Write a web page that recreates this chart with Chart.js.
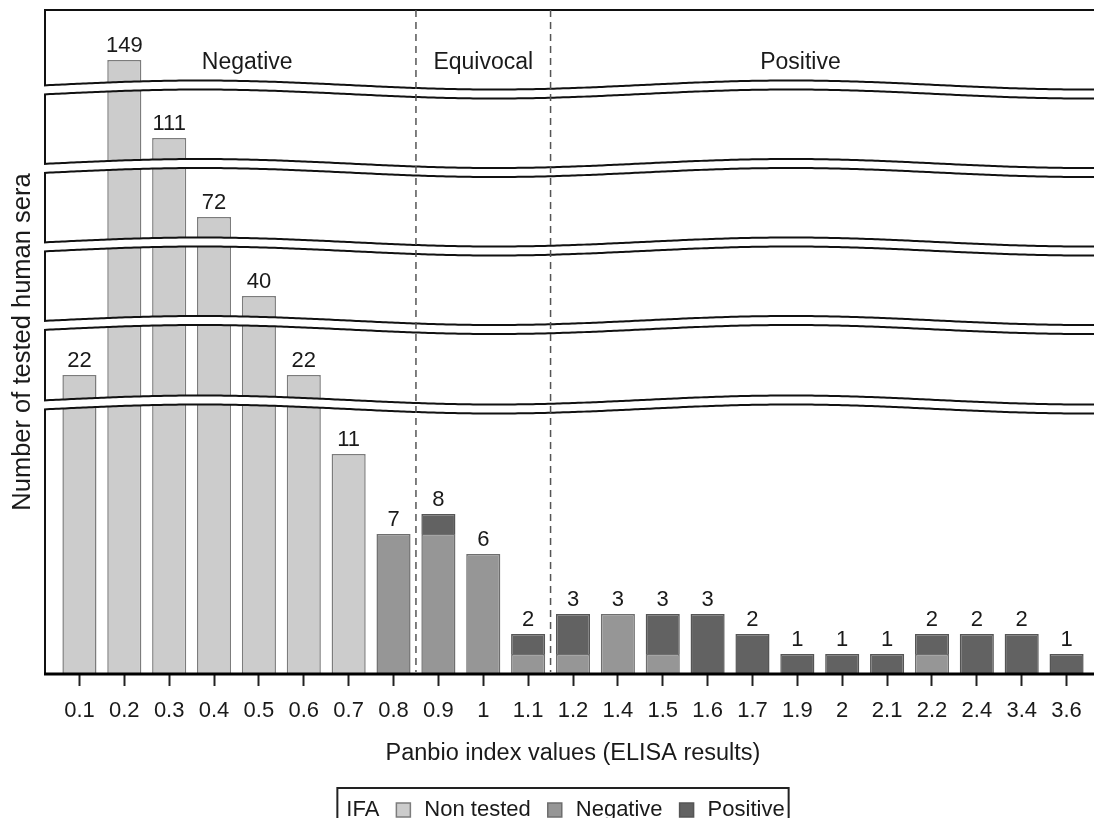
<!DOCTYPE html>
<html>
<head>
<meta charset="utf-8">
<script src="https://cdn.jsdelivr.net/npm/chart.js@4.4.1/dist/chart.umd.min.js"></script>
<style>
    html, body { margin: 0; padding: 0; background: #fff; }
    #wrap { width: 1094px; height: 818px; }
</style>
</head>
<body>
<div id="wrap"><canvas id="chartElisa"></canvas></div>
<script>
// Panbio index values (x categories) and counts per IFA result
const categories = ['0.1', '0.2', '0.3', '0.4', '0.5', '0.6', '0.7', '0.8', '0.9', '1', '1.1', '1.2',
    '1.4', '1.5', '1.6', '1.7', '1.9', '2', '2.1', '2.2', '2.4', '3.4', '3.6'];
const nonTested = [22, 149, 111, 72, 40, 22, 11, 0, 0, 0, 0, 0, 0, 0, 0, 0, 0, 0, 0, 0, 0, 0, 0];
const negativeIfa = [0, 0, 0, 0, 0, 0, 0, 7, 7, 6, 1, 1, 3, 1, 0, 0, 0, 0, 0, 1, 0, 0, 0];
const positiveIfa = [0, 0, 0, 0, 0, 0, 0, 0, 1, 0, 1, 2, 0, 2, 3, 2, 1, 1, 1, 1, 2, 2, 1];
const seriesNames = ['Non tested', 'Negative', 'Positive'];
const regionNames = ['Negative', 'Equivocal', 'Positive'];

const fontFamily = "'Liberation Sans', Arial, Helvetica, sans-serif";
const textColor = '#1a1a1a';

// broken y axis: value -> display units (1 unit = one count in the lowest panel)
const yKnots = [[0, 0], [12, 12], [22, 14.95], [40, 18.9], [72, 22.85], [111, 26.8], [149, 30.7], [165, 33.2]];
// centre of each wavy break, in display units
const yBreaks = [13.475, 17.45, 21.375, 25.3, 29.225];

class BrokenScale extends Chart.LinearScale {
    warp(v) {
        const k = yKnots;
        for (let i = 1; i < k.length; i++) {
            if (v <= k[i][0] || i == k.length - 1) {
                const a = k[i - 1], b = k[i];
                return a[1] + (v - a[0]) * (b[1] - a[1]) / (b[0] - a[0]);
            }
        }
        return v;
    }
    getPixelForUnit(u) {
        const lo = this.warp(this.min), hi = this.warp(this.max);
        return this.getPixelForDecimal((u - lo) / (hi - lo));
    }
    getPixelForValue(value) {
        if (value === null || isNaN(value)) return NaN;
        return this.getPixelForUnit(this.warp(value));
    }
}
BrokenScale.id = 'broken';
Chart.register(BrokenScale);

const frameInset = 12;

const brokenFrame = {
    id: 'brokenFrame',
    afterDatasetsDraw: function (chart) {
        const ctx = chart.ctx;
        const area = chart.chartArea;
        const xs = chart.scales.x, ys = chart.scales.y;
        const left = area.left - frameInset;
        const right = chart.width;
        const wave = function (px) {
            return -4.5 * Math.cos(2 * Math.PI * (px - left - 155) / 590);
        };

        ctx.save();
        ctx.lineCap = 'butt';

        // outer frame: left side and top
        ctx.strokeStyle = '#111';
        ctx.lineWidth = 2;
        ctx.beginPath();
        ctx.moveTo(right, area.top);
        ctx.lineTo(left, area.top);
        ctx.lineTo(left, area.bottom);
        ctx.stroke();

        // wavy axis breaks
        for (const u of yBreaks) {
            const yc = ys.getPixelForUnit(u);
            ctx.beginPath();
            for (let px = left - 5; px <= right; px += 3) ctx.lineTo(px, yc - 4.5 + wave(px));
            for (let px = right; px >= left - 5; px -= 3) ctx.lineTo(px, yc + 4.5 + wave(px));
            ctx.closePath();
            ctx.fillStyle = '#fff';
            ctx.fill();

            ctx.strokeStyle = '#111';
            ctx.lineWidth = 2;
            for (const s of [-1, 1]) {
                ctx.beginPath();
                for (let px = left - 1; px <= right + 3; px += 3) ctx.lineTo(px, yc + s * 4.5 + wave(px));
                ctx.stroke();
            }
        }

        // x axis line
        ctx.strokeStyle = '#000';
        ctx.lineWidth = 3;
        ctx.beginPath();
        ctx.moveTo(left - 1, area.bottom);
        ctx.lineTo(right, area.bottom);
        ctx.stroke();

        // dashed region limits
        ctx.strokeStyle = '#555';
        ctx.lineWidth = 1.5;
        ctx.setLineDash([7, 5]);
        for (const b of [7.5, 10.5]) {
            const px = xs.getPixelForValue(b);
            ctx.beginPath();
            ctx.moveTo(px, area.top);
            ctx.lineTo(px, area.bottom - 2);
            ctx.stroke();
        }
        ctx.setLineDash([]);

        // region names
        ctx.fillStyle = textColor;
        ctx.font = '23px ' + fontFamily;
        ctx.textAlign = 'center';
        ctx.textBaseline = 'alphabetic';
        const regionAt = [3.74, 9, 16.07];
        regionNames.forEach(function (name, i) {
            ctx.fillText(name, xs.getPixelForValue(regionAt[i]), area.top + 59);
        });

        // totals above bars
        ctx.font = '22px ' + fontFamily;
        categories.forEach(function (c, i) {
            const total = nonTested[i] + negativeIfa[i] + positiveIfa[i];
            ctx.fillText(String(total), xs.getPixelForValue(i), ys.getPixelForValue(total) - 8);
        });

        ctx.restore();
    }
};

const legendBox = {
    id: 'legendBox',
    afterDraw: function (chart) {
        const ctx = chart.ctx;
        const area = chart.chartArea;
        const items = chart.data.datasets;
        ctx.save();
        ctx.font = '22px ' + fontFamily;
        const titleW = ctx.measureText('IFA').width;
        let w = 9 + titleW + 4;
        items.forEach(function (d) { w += 17 + 14 + 14 + ctx.measureText(d.label).width; });
        const cx = (area.left - frameInset + area.right) / 2 - 4;
        let x = cx - w / 2;
        const top = chart.height - 30;
        const cy = chart.height - 8;

        ctx.strokeStyle = '#222';
        ctx.lineWidth = 2;
        ctx.strokeRect(x, top, w, 60);

        ctx.fillStyle = textColor;
        ctx.textAlign = 'left';
        ctx.textBaseline = 'middle';
        x += 9;
        ctx.fillText('IFA', x, cy);
        x += titleW;
        items.forEach(function (d) {
            x += 17;
            ctx.fillStyle = d.backgroundColor;
            ctx.fillRect(x, cy - 7, 14, 14);
            ctx.strokeStyle = d.borderColor;
            ctx.lineWidth = 1.5;
            ctx.strokeRect(x, cy - 7, 14, 14);
            x += 14 + 14;
            ctx.fillStyle = textColor;
            ctx.fillText(d.label, x, cy);
            x += ctx.measureText(d.label).width;
        });
        ctx.restore();
    }
};

var arrColor = ['#cccccc', '#969696', '#626262'];
var arrBorder = ['#7c7c7c', '#6e6e6e', '#555555'];
var series = [nonTested, negativeIfa, positiveIfa];

let objDatasets = [];
for (let i = 0; i < series.length; i++) {
    objDatasets.push({
        label: seriesNames[i],
        data: series[i].map(function (v) { return v || null; }),
        backgroundColor: arrColor[i],
        borderColor: arrBorder[i],
        borderWidth: 1.5,
        barPercentage: 0.76,
        categoryPercentage: 1.0
    });
}

Chart.defaults.font.family = fontFamily;
Chart.defaults.color = textColor;

let ctx = document.getElementById('chartElisa').getContext('2d');
let elisaChart = new Chart(ctx, {
    type: 'bar',
    data: {
        labels: categories,
        datasets: objDatasets
    },
    plugins: [brokenFrame, legendBox],
    options: {
        responsive: true,
        maintainAspectRatio: false,
        animation: false,
        layout: {
            padding: { left: 4, right: 5, top: 10, bottom: 45.9 }
        },
        plugins: {
            legend: { display: false },
            tooltip: { enabled: false }
        },
        scales: {
            x: {
                stacked: true,
                offset: true,
                grid: {
                    display: true,
                    offset: false,
                    drawOnChartArea: false,
                    drawTicks: true,
                    tickLength: 12,
                    tickWidth: 2,
                    tickColor: '#222'
                },
                border: { display: false },
                ticks: {
                    padding: 12,
                    maxRotation: 0,
                    autoSkip: false,
                    color: textColor,
                    font: { size: 22 }
                },
                title: {
                    display: true,
                    text: 'Panbio index values (ELISA results)',
                    color: textColor,
                    font: { size: 23.5 },
                    padding: { top: 3.5, bottom: 4 }
                }
            },
            y: {
                type: 'broken',
                stacked: true,
                min: 0,
                max: 165,
                grid: { display: false, drawTicks: false },
                border: { display: false },
                ticks: { display: false },
                title: {
                    display: true,
                    text: 'Number of tested human sera',
                    color: textColor,
                    font: { size: 25.5 },
                    padding: { top: 4, bottom: 18.4 }
                }
            }
        }
    }
});
</script>
</body>
</html>
